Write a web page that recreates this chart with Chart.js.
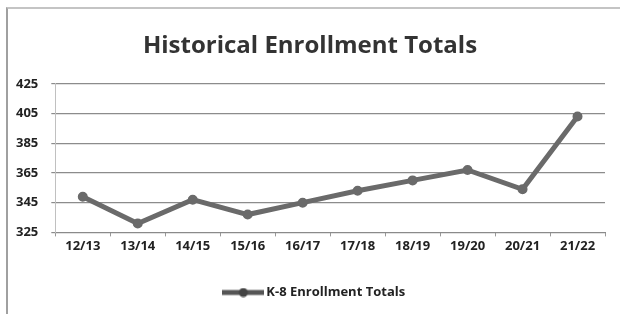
<!DOCTYPE html>
<html>
<head>
<meta charset="utf-8">
<script src="https://cdn.jsdelivr.net/npm/chart.js@4/dist/chart.umd.min.js"></script>
<style>
  html, body { margin: 0; padding: 0; background: #fff; }
  #wrap { position: absolute; left: 0; top: 0; width: 620px; height: 314px; overflow: hidden; }
  #frame { position: absolute; left: 6px; top: 7px; width: 640px; height: 330px; border-left: 2px solid #a0a0a0; border-top: 2px solid #c4c4c4; }
  canvas { position: absolute; left: 0; top: 0; }
</style>
</head>
<body>
<div id="wrap">
  <div id="frame"></div>
  <canvas id="c" width="620" height="314"></canvas>
</div>
<script>
const categories = ["12/13", "13/14", "14/15", "15/16", "16/17", "17/18", "18/19", "19/20", "20/21", "21/22"];
const enrollment = [349, 331, 347, 337, 345, 353, 360, 367, 354, 403];
const yTicks = [325, 345, 365, 385, 405, 425];
const seriesName = "K-8 Enrollment Totals";
const chartTitle = "Historical Enrollment Totals";

const lineColor = "#6a6a6a";

// legend swatch: line with a dot
const sw = document.createElement("canvas");
sw.width = 42; sw.height = 10;
const sctx = sw.getContext("2d");
sctx.strokeStyle = "#555"; sctx.lineWidth = 5;
sctx.beginPath(); sctx.moveTo(0, 5); sctx.lineTo(42, 5); sctx.stroke();
sctx.fillStyle = "#444";
sctx.beginPath(); sctx.arc(21, 5, 4.5, 0, Math.PI * 2); sctx.fill();

Chart.defaults.font.family = "'Open Sans', 'DejaVu Sans', sans-serif";
Chart.defaults.color = "#2a2a2a";

const boxShift = {
  id: "boxShift",
  afterLayout(chart) {
    if (chart.legend) { chart.legend.left += 12; chart.legend.right += 12; }
    if (chart.titleBlock) { chart.titleBlock.left += 6; chart.titleBlock.right += 6; }
  }
};

new Chart(document.getElementById("c"), {
  type: "line",
  data: {
    labels: categories,
    datasets: [{
      label: seriesName,
      data: enrollment,
      borderColor: lineColor,
      backgroundColor: lineColor,
      borderWidth: 5,
      pointRadius: 2.5,
      pointBackgroundColor: lineColor,
      pointBorderColor: lineColor,
      pointStyle: "circle",
      tension: 0
    }]
  },
  plugins: [boxShift],
  options: {
    responsive: false,
    animation: false,
    layout: { padding: { left: 3, right: 15, top: 32, bottom: 5 } },
    plugins: {
      title: {
        display: true,
        text: chartTitle,
        color: "#333",
        font: { size: 24, weight: "bold" },
        padding: { top: 0, bottom: 23 }
      },
      legend: {
        position: "bottom",
        labels: {
          usePointStyle: true,
          pointStyle: sw,
          pointStyleWidth: 33,
          boxWidth: 33,
          padding: 10,
          color: "#222",
          font: { size: 13, weight: "bold" }
        }
      },
      tooltip: { enabled: false }
    },
    scales: {
      x: {
        offset: true,
        afterFit: (scale) => { scale.height += 20; },
        grid: { display: true, drawOnChartArea: false, drawTicks: true, tickLength: 4, offset: true, color: "#999" },
        border: { display: true, color: "#8a8a8a", width: 1 },
        ticks: { font: { size: 13, weight: "bold" }, color: "#222", padding: 2, maxRotation: 0 }
      },
      y: {
        min: 325,
        max: 425,
        afterBuildTicks: (axis) => { axis.ticks = yTicks.map(v => ({ value: v })); },
        grid: { color: "#8c8c8c", lineWidth: 1.2, drawTicks: true, tickLength: 4 },
        border: { display: true, color: "#c0c0c0" },
        ticks: { font: { size: 13, weight: "bold" }, color: "#222", padding: 13 }
      }
    }
  }
});
</script>
</body>
</html>
